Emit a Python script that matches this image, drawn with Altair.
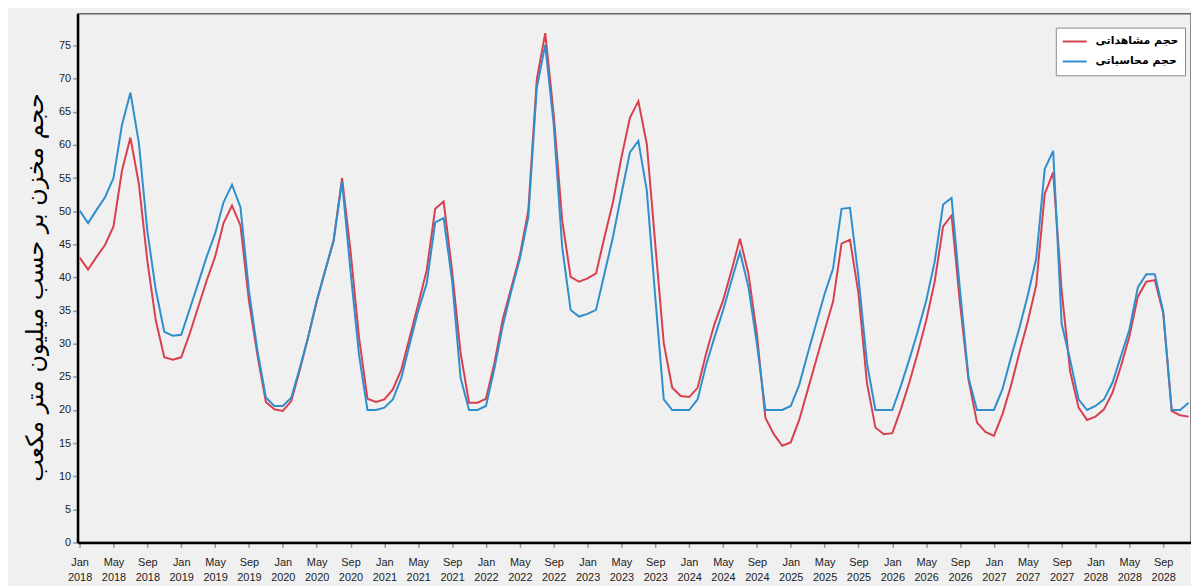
import altair as alt
import pandas as pd

start_year = 2018
tick_months = ["Jan", "May", "Sep"]
series_names = ["حجم مشاهداتی", "حجم محاسباتی"]
series_colors = ["#d8404f", "#2f8fcc"]
y_title = "حجم مخزن بر حسب میلیون متر مکعب"
y_ticks = list(range(0, 80, 5))

# observed (red), monthly Jan 2018 - Dec 2028
observed = [
    43, 41.2, 43.1, 44.9, 47.7, 56.1, 61.1, 54.1, 42.5, 33.5, 27.95, 27.6,
    27.95, 31.5, 35.5, 39.5, 43.1, 48.2, 50.85, 47.85, 36.5, 28.3, 21.2, 20.1,
    19.85, 21.35, 26, 31, 36.3, 41, 45.6, 55, 44, 31, 21.7, 21.2,
    21.6, 23.1, 26.1, 31, 36, 41.1, 50.35, 51.45, 41, 28.6, 21.1, 21.1,
    21.7, 27.1, 33.8, 38.5, 43.3, 50.1, 69.85, 76.85, 64.6, 48.6, 40.1, 39.35,
    39.85, 40.6, 46.1, 51.35, 58.1, 64.1, 66.6, 60.1, 45, 30.1, 23.35, 22.1,
    21.95, 23.35, 28.5, 33, 36.5, 41, 45.85, 40.6, 31.5, 18.85, 16.35, 14.6,
    15.1, 18.5, 23, 27.5, 32, 36.35, 45.1, 45.7, 37.6, 24.1, 17.35, 16.35,
    16.5, 20.1, 24.1, 28.6, 33.5, 39.35, 47.7, 49.35, 36, 24.6, 18.1, 16.7,
    16.1, 19.35, 23.6, 28.6, 33.35, 38.85, 52.6, 55.85, 38, 25.85, 20.35, 18.5,
    19, 20.1, 22.6, 26.6, 31.1, 37.1, 39.35, 39.6, 34.6, 19.85, 19.2, 19,
]

# computed (blue)
computed = [
    50.1, 48.2, 50.2, 52.1, 55, 63, 67.9, 60.3, 47, 38.1, 31.8, 31.2,
    31.35, 35.2, 39.1, 43.1, 46.6, 51.35, 54, 50.6, 38, 29, 21.9, 20.6,
    20.6, 21.85, 26.3, 31, 36.5, 41, 45.5, 54.5, 41, 28.35, 20, 20,
    20.35, 21.6, 24.85, 30, 35, 39.1, 48.3, 48.95, 39.5, 24.85, 20, 20,
    20.6, 26.3, 32.8, 38, 42.8, 49.1, 68.6, 75.1, 63.1, 44.6, 35.1, 34.1,
    34.5, 35.1, 40.6, 46.1, 52.6, 58.85, 60.6, 53.1, 37, 21.6, 20, 20,
    20, 21.6, 26.8, 31, 35, 39.5, 43.85, 38.6, 30, 20, 20, 20,
    20.6, 23.8, 28.5, 33, 37.5, 41.35, 50.35, 50.5, 40.1, 27.1, 20, 20,
    20, 23.6, 27.6, 31.85, 36.5, 42.35, 51, 52, 38, 24.85, 20, 20,
    20, 23.1, 27.85, 32.35, 37.3, 42.85, 56.35, 59.1, 33, 27.6, 21.6, 20,
    20.6, 21.6, 24.1, 28.1, 32.1, 38.5, 40.5, 40.5, 34.85, 20, 20, 21.1,
]

rows = []
for name, vals in zip(series_names, [observed, computed]):
    for i, v in enumerate(vals):
        rows.append({"m": i, "series": name, "v": v})
df = pd.DataFrame(rows)

n = len(observed)
month_js = "[" + ",".join("'%s'" % m for m in tick_months) + "]"
label_expr = ("[%s[floor((datum.value %% 12) / 4)], '' + (%d + floor(datum.value / 12))]"
              % (month_js, start_year))

x_enc = alt.X(
    "m:Q",
    scale=alt.Scale(domain=[-0.24, n - 1 + 0.28], nice=False, zero=False),
    axis=alt.Axis(
        values=list(range(0, n, 4)), labelExpr=label_expr, title=None, grid=False,
        labelFont="Liberation Sans", labelFontSize=11, labelColor="#222",
        labelLineHeight=15, labelPadding=9, labelOverlap=False, labelFlush=False,
        tickColor="#999", tickSize=5, tickWidth=1.5,
        domainColor="black", domainWidth=2.5,
    ),
)
y_enc = alt.Y(
    "v:Q",
    scale=alt.Scale(domain=[0, 79.8], nice=False),
    axis=alt.Axis(
        values=y_ticks, title=y_title, grid=False,
        titleFont="DejaVu Sans", titleFontSize=24, titleFontWeight="normal",
        titleColor="black", titleX=-42, titleY=275, titleAngle=270,
        titleAlign="center", titleBaseline="middle",
        labelFont="Liberation Sans", labelFontSize=11, labelColor="#222",
        labelPadding=2, tickColor="#999", tickSize=5, tickWidth=1.5,
        domainColor="black", domainWidth=2.5,
    ),
)
color_enc = alt.Color(
    "series:N",
    scale=alt.Scale(domain=series_names, range=series_colors),
    legend=alt.Legend(
        title=None, orient="none", legendX=984, legendY=14,
        fillColor="white", strokeColor="#888", padding=6,
        symbolType="stroke", symbolSize=576, symbolStrokeWidth=2,
        clipHeight=16, rowPadding=4,
        labelFont="DejaVu Sans", labelFontSize=11, labelFontWeight="bold",
        labelColor="black", labelOffset=8,
    ),
)

base = alt.Chart(df).mark_line(strokeWidth=2).encode(x=x_enc, y=y_enc, color=color_enc)
red = base.transform_filter(alt.datum.series == series_names[0])
blue = base.transform_filter(alt.datum.series == series_names[1])

chart = alt.layer(red, blue).properties(
    width=1120, height=532,
    autosize=alt.AutoSizeParams(type="none"),
    padding={"left": 70, "top": 4, "right": 0, "bottom": 42},
    background="#f0f0f0",
).configure_view(stroke="#666", strokeWidth=1.5)

chart.save("out.html", embed_options={"renderer": "svg", "actions": False})
